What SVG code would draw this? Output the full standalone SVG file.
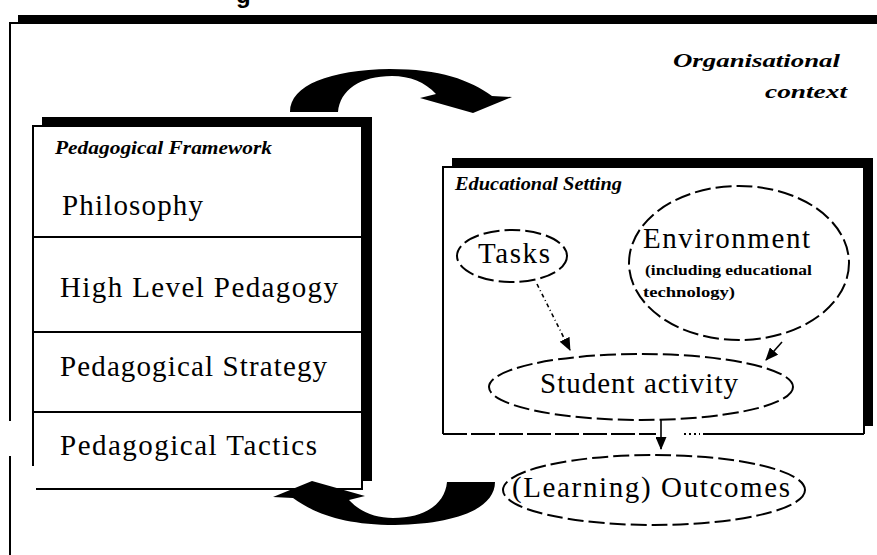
<svg xmlns="http://www.w3.org/2000/svg" xmlns:xlink="http://www.w3.org/1999/xlink" width="877" height="555" viewBox="0 0 877 555">
  <style>
    .frame { fill: #ffffff; stroke: #000000; stroke-width: 2; }
    .shadow { fill: #000000; }
    .rule { stroke: #000000; stroke-width: 2; fill: none; }
    .oval { fill: none; stroke: #000000; stroke-width: 2; stroke-dasharray: 16 5; }
    .body { font-family: "Liberation Serif", "Times New Roman", serif; font-size: 29px; fill: #000000; }
    .label { font-family: "Liberation Serif", "Times New Roman", serif; font-size: 18px; font-weight: bold; font-style: italic; fill: #000000; }
    .note { font-family: "Liberation Serif", "Times New Roman", serif; font-size: 15px; font-weight: bold; fill: #000000; }
    .link { fill: none; stroke: #000000; stroke-width: 1.6; }
  </style>
  <defs>
    <marker id="head" markerUnits="userSpaceOnUse" markerWidth="13" markerHeight="11" refX="12" refY="5.5" orient="auto">
      <path d="M0,0 L13,5.5 L0,11 Z" fill="#000000"/>
    </marker>
    <!-- tapered curved arrow: thick base on the left, head on the right pointing down -->
    <path id="swoop" d="M290,112 C290,85 330,70 390,69 C440,69 470,80 492,96 L512,97 L473,113 L420,98 L436,94 C425,82 410,76 392,76 C360,76 340,90 338,112 Z" fill="#000000"/>
  </defs>

  <rect width="877" height="555" fill="#ffffff"/>

  <!-- heading fragment above the frame -->
  <text x="236" y="3" font-family="Liberation Sans, Arial, sans-serif" font-size="24" font-weight="bold" fill="#000000">g</text>

  <!-- outer organisational frame with drop shadow -->
  <g id="organisation">
    <rect class="shadow" x="18" y="15" width="900" height="600"/>
    <rect x="10" y="23" width="900" height="600" fill="#ffffff"/>
    <path class="rule" d="M10,600 V23 H900"/>
    <rect x="8" y="421" width="5" height="35" fill="#ffffff"/>
    <text class="label" x="673" y="67" font-size="22" textLength="167" lengthAdjust="spacingAndGlyphs">Organisational</text>
    <text class="label" x="765" y="98" font-size="22" textLength="82" lengthAdjust="spacingAndGlyphs">context</text>
  </g>

  <!-- pedagogical framework stack -->
  <g id="framework">
    <rect class="shadow" x="42" y="117" width="330" height="364"/>
    <rect x="33" y="126" width="329" height="363" fill="#ffffff"/>
    <path class="rule" d="M33,466 V126 H362 V489 H36"/>
    <line class="rule" x1="33" y1="237" x2="362" y2="237"/>
    <line class="rule" x1="33" y1="332" x2="362" y2="332"/>
    <line class="rule" x1="33" y1="412" x2="362" y2="412"/>
    <text class="label" x="55" y="154" textLength="217" lengthAdjust="spacingAndGlyphs">Pedagogical Framework</text>
    <text class="body" x="62" y="215" textLength="141" lengthAdjust="spacing">Philosophy</text>
    <text class="body" x="60" y="297" textLength="278" lengthAdjust="spacing">High Level Pedagogy</text>
    <text class="body" x="60" y="376" textLength="267" lengthAdjust="spacing">Pedagogical Strategy</text>
    <text class="body" x="60" y="455" textLength="257" lengthAdjust="spacing">Pedagogical Tactics</text>
  </g>

  <!-- educational setting box -->
  <g id="setting">
    <rect class="shadow" x="452" y="158" width="421" height="268"/>
    <rect x="443" y="167" width="421" height="267" fill="#ffffff"/>
    <path class="rule" d="M443,434 V167 H864 V434"/>
    <line class="rule" x1="443" y1="434" x2="656" y2="434" stroke-dasharray="24 4"/>
    <line class="rule" x1="684" y1="434" x2="700" y2="434" stroke-dasharray="2 3"/>
    <line class="rule" x1="703" y1="434" x2="864" y2="434"/>
    <text class="label" x="455" y="190" textLength="167" lengthAdjust="spacingAndGlyphs">Educational Setting</text>
  </g>

  <g id="tasks">
    <ellipse class="oval" cx="512" cy="256" rx="55" ry="26"/>
    <text class="body" x="478" y="263" textLength="72" lengthAdjust="spacing">Tasks</text>
  </g>

  <g id="environment">
    <ellipse class="oval" cx="739" cy="263" rx="110" ry="77"/>
    <text class="body" x="643" y="248" textLength="167" lengthAdjust="spacing">Environment</text>
    <text class="note" x="645" y="275" textLength="167" lengthAdjust="spacingAndGlyphs">(including educational</text>
    <text class="note" x="643" y="297" textLength="92" lengthAdjust="spacingAndGlyphs">technology)</text>
  </g>

  <g id="activity">
    <ellipse class="oval" cx="641" cy="387" rx="152" ry="33"/>
    <text class="body" x="540" y="393" font-size="27" textLength="198" lengthAdjust="spacing">Student activity</text>
  </g>

  <g id="outcomes">
    <ellipse class="oval" cx="654" cy="490" rx="151" ry="35"/>
    <text class="body" x="512" y="497" font-size="26" textLength="278" lengthAdjust="spacing">(Learning) Outcomes</text>
  </g>

  <!-- connectors -->
  <g id="connectors">
    <line class="link" x1="537" y1="284" x2="570" y2="350" stroke-dasharray="4 3 1 3" marker-end="url(#head)"/>
    <line class="link" x1="782" y1="342" x2="766" y2="360" stroke-width="3" marker-end="url(#head)"/>
    <line class="link" x1="661" y1="420" x2="661" y2="449" marker-end="url(#head)"/>
    <use xlink:href="#swoop"/>
    <use xlink:href="#swoop" transform="rotate(180 392.5 297)"/>
  </g>
</svg>
